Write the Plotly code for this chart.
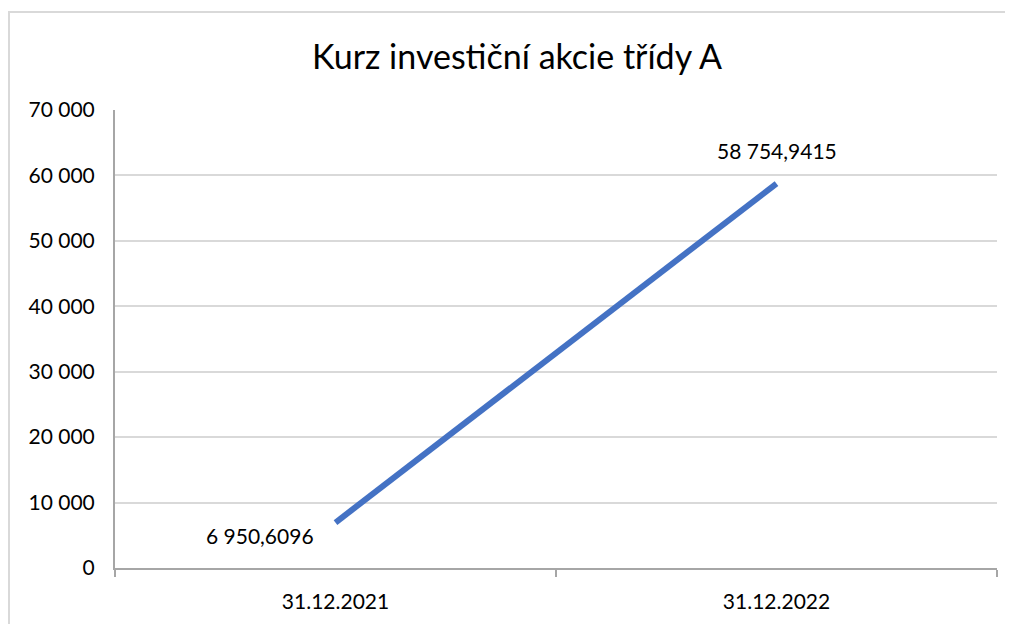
import plotly.graph_objects as go

categories = ["31.12.2021", "31.12.2022"]
values = [6950.6096, 58754.9415]
y_ticks = [0, 10000, 20000, 30000, 40000, 50000, 60000, 70000]
title_text = "Kurz investiční akcie třídy A"

def fmt_cz(v, dec=4):
    s = f"{v:,.{dec}f}"
    return s.replace(",", " ").replace(".", ",")

# page body has an 8px margin, so figure coords = screen coords - 8
OFF = 8
W, H = 1013, 624
L, T = 115 - OFF, 110 - OFF
R = W - (997 - OFF)
B = H - (568 - OFF)
pw, ph = W - L - R, H - T - B

FONT = "Lato"
fig = go.Figure()
fig.add_trace(go.Scatter(
    x=categories, y=values, mode="lines",
    line=dict(color="#4472C4", width=6),
    hoverinfo="skip", showlegend=False,
))

# data labels
fig.add_annotation(x=categories[0], y=values[0], text=fmt_cz(values[0]),
                   showarrow=False, xanchor="right", yanchor="middle",
                   xshift=-20, yshift=-13, font=dict(family=FONT, size=21, color="#000"))
fig.add_annotation(x=categories[1], y=values[1], text=fmt_cz(values[1]),
                   showarrow=False, xanchor="center", yanchor="bottom",
                   xshift=0, yshift=19, font=dict(family=FONT, size=21, color="#000"))

# outer chart border
fig.add_shape(type="rect", xref="paper", yref="paper",
              x0=(8 - OFF + 1 - L) / pw, x1=(W + 10 - L) / pw,
              y0=-(B + 10) / ph, y1=1 + (T - (12 - OFF)) / ph,
              line=dict(color="#D9D9D9", width=2), fillcolor="rgba(0,0,0,0)", layer="below")

fig.update_layout(
    width=W, height=H,
    margin=dict(l=L, r=R, t=T, b=B),
    paper_bgcolor="white", plot_bgcolor="white",
    separators=", ",
    title=dict(text=title_text, x=(517 - OFF - L) / pw, xref="paper", xanchor="center",
               y=1 - (57 - OFF) / H, yanchor="middle",
               font=dict(family=FONT, size=34, color="#000")),
    font=dict(family=FONT, size=21, color="#000"),
    xaxis=dict(type="category", tickson="boundaries", ticks="outside", ticklen=7,
               tickcolor="#A6A6A6", tickwidth=2, showline=True, linecolor="#A6A6A6",
               linewidth=2, showgrid=False, zeroline=False, range=[-0.5, 1.5],
               ticklabelstandoff=14,
               tickfont=dict(family=FONT, size=21, color="#000")),
    yaxis=dict(range=[0, 70000], tickvals=y_ticks, tickformat=",d",
               showline=True, linecolor="#A6A6A6", linewidth=2,
               showgrid=True, gridcolor="#D9D9D9", gridwidth=2, zeroline=False,
               ticks="", ticklabelstandoff=14,
               tickfont=dict(family=FONT, size=21, color="#000")),
)

fig.write_html("out.html")
